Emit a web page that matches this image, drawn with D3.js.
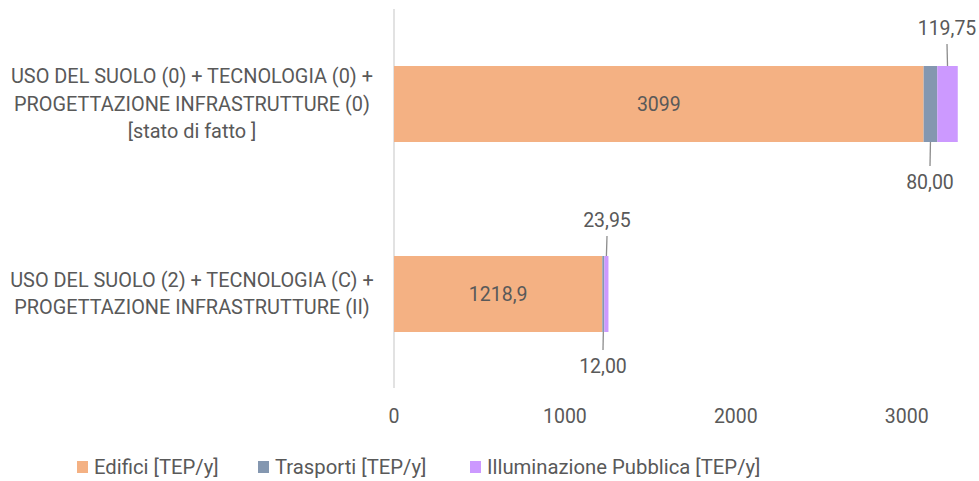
<!DOCTYPE html>
<html>
<head>
<meta charset="utf-8">
<script src="https://cdn.jsdelivr.net/npm/d3@7"></script>
<style>
  html, body { margin: 0; padding: 0; background: #fff; }
  svg text { font-family: Roboto, "Open Sans", sans-serif; fill: #595959; }
</style>
</head>
<body>
<svg id="chart" width="979" height="481"></svg>
<script>
// Scenarios (one bar each, top to bottom)
const categories = [
  ["USO DEL SUOLO (0) + TECNOLOGIA (0) +", "PROGETTAZIONE INFRASTRUTTURE (0)", "[stato di fatto ]"],
  ["USO DEL SUOLO (2) + TECNOLOGIA (C) +", "PROGETTAZIONE INFRASTRUTTURE (II)"]
];
const seriesNames = ["Edifici [TEP/y]", "Trasporti [TEP/y]", "Illuminazione Pubblica [TEP/y]"];
const edifici = [3099, 1218.9];
const trasporti = [80.00, 12.00];
const illuminazione = [119.75, 23.95];
const edificiLabels = ["3099", "1218,9"];
const trasportiLabels = ["80,00", "12,00"];
const illuminazioneLabels = ["119,75", "23,95"];
const xTicks = [0, 1000, 2000, 3000];
const colors = ["#F4B183", "#8497B0", "#CC99FF"];

const FS = 19.5;
const svg = d3.select("#chart");
const x = d3.scaleLinear().domain([0, 3300]).range([394, 394 + 3300 * 0.1709]);
const y = d3.scaleBand().domain(d3.range(categories.length)).range([9, 389])
  .paddingInner(0.6).paddingOuter(0.3);

// axis line at zero
svg.append("line").attr("x1", x(0)).attr("x2", x(0)).attr("y1", 9).attr("y2", 388)
  .attr("stroke", "#D9D9D9").attr("stroke-width", 1.5);

// stacked bars
const series = [edifici, trasporti, illuminazione];
const rows = categories.map((c, i) => {
  let acc = 0;
  return series.map((s, k) => { const seg = {k, i, x0: acc, x1: acc + s[i]}; acc += s[i]; return seg; });
});
rows.forEach(segs => {
  svg.selectAll(null).data(segs).enter().append("rect")
    .attr("x", d => x(d.x0)).attr("width", d => x(d.x1) - x(d.x0))
    .attr("y", d => y(d.i)).attr("height", y.bandwidth())
    .attr("fill", d => colors[d.k]);
});

// labels inside the Edifici segment
categories.forEach((c, i) => {
  svg.append("text").attr("x", (x(0) + x(edifici[i])) / 2).attr("y", y(i) + y.bandwidth() / 2)
    .attr("text-anchor", "middle").attr("dominant-baseline", "central")
    .attr("font-size", FS).text(edificiLabels[i]);
});

// callout labels: Trasporti below, Illuminazione above
const stackTop = edifici.map((e, j) => e + trasporti[j]);
const callouts = [
  {i: 0, v: trasporti, lab: trasportiLabels, base: edifici, dir: 1, lx: 930, ly: 182},
  {i: 1, v: trasporti, lab: trasportiLabels, base: edifici, dir: 1, lx: 603, ly: 366},
  {i: 0, v: illuminazione, lab: illuminazioneLabels, base: stackTop, dir: -1, lx: 947, ly: 28},
  {i: 1, v: illuminazione, lab: illuminazioneLabels, base: stackTop, dir: -1, lx: 607, ly: 220}
];
callouts.forEach(c => {
  const mid = x(c.base[c.i] + c.v[c.i] / 2);
  const yEdge = c.dir > 0 ? y(c.i) + y.bandwidth() : y(c.i);
  const yEnd = c.ly - c.dir * 16;
  svg.append("line").attr("x1", mid).attr("y1", yEdge).attr("x2", c.lx).attr("y2", yEnd)
    .attr("stroke", "#8C8C8C").attr("stroke-width", 1.3);
  svg.append("text").attr("x", c.lx).attr("y", c.ly)
    .attr("text-anchor", "middle").attr("dominant-baseline", "central")
    .attr("font-size", FS).text(c.lab[c.i]);
});

// category labels
categories.forEach((lines, i) => {
  const cy = y(i) + y.bandwidth() / 2;
  const lh = 27.5;
  const t = svg.append("text").attr("text-anchor", "middle").attr("font-size", 19.9);
  lines.forEach((ln, j) => {
    t.append("tspan").attr("x", 192).attr("y", cy + (j - (lines.length - 1) / 2) * lh)
      .attr("dominant-baseline", "central").text(ln);
  });
});

// x tick labels
svg.selectAll(null).data(xTicks).enter().append("text")
  .attr("x", d => x(d)).attr("y", 416).attr("text-anchor", "middle")
  .attr("dominant-baseline", "central").attr("font-size", FS).text(d => d);

// legend
const legendX = [77, 258, 470];
seriesNames.forEach((n, k) => {
  svg.append("rect").attr("x", legendX[k]).attr("y", 461).attr("width", 11).attr("height", 12)
    .attr("fill", colors[k]);
  svg.append("text").attr("x", legendX[k] + 17).attr("y", 467).attr("dominant-baseline", "central")
    .attr("font-size", 20.3).text(n);
});
</script>
</body>
</html>
